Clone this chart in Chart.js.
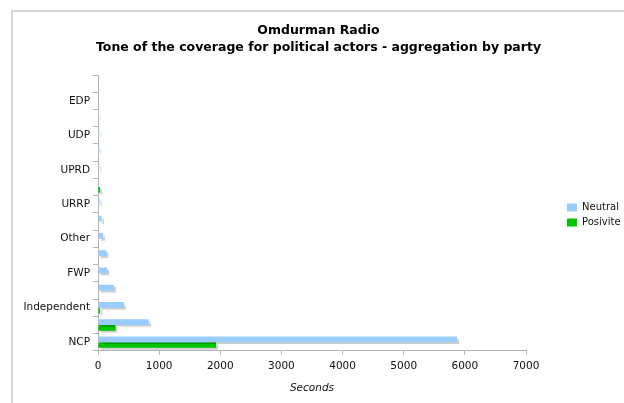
<!DOCTYPE html>
<html>
<head>
<meta charset="utf-8">
<style>
  html, body { margin: 0; padding: 0; background: #fff; overflow: hidden; }
  .frame {
    position: absolute; left: 11px; top: 10px; width: 611px; height: 391px;
    border-left: 2px solid #d4d4d4; border-top: 2px solid #d4d4d4;
  }
  #toneChart { display: block; }
</style>
</head>
<body>
<div class="frame"><canvas id="toneChart" width="611" height="391"></canvas></div>
<script src="https://cdn.jsdelivr.net/npm/chart.js@4.4.0/dist/chart.umd.min.js"></script>
<script>
   // parties, top of the chart first; blank rows carry no label on the axis
   const parties = ['', 'EDP', '', 'UDP', '', 'UPRD', '', 'URRP', '', 'Other', '', 'FWP', '', 'Independent', '', 'NCP'];
   // seconds of airtime per tone
   const neutralSeconds  = [0, 0, 15, 20, 20, 20, 0, 25, 60, 80, 135, 150, 260, 425, 830, 5870];
   const positiveSeconds = [10, 10, 0, 0, 0, 0, 35, 8, 0, 0, 0, 0, 0, 33, 285, 1930];
   const secondsTicks = [0, 1000, 2000, 3000, 4000, 5000, 6000, 7000];

   const font = 'DejaVu Sans';
   const axisGray = '#b4b4b4';

   // soft drop shadow under the bars
   const barShadow = {
       id: 'barShadow',
       beforeDatasetsDraw(chart) {
           const ctx = chart.ctx;
           ctx.save();
           ctx.shadowColor = 'rgba(0,0,0,0.2)';
           ctx.shadowOffsetX = 2;
           ctx.shadowOffsetY = 2;
           ctx.shadowBlur = 1;
       },
       afterDatasetsDraw(chart) {
           chart.ctx.restore();
       }
   };

   // leave a gap between the plot and the legend entries
   const legendGap = {
       id: 'legendGap',
       beforeLayout(chart) {
           const legend = chart.legend;
           if (!legend || legend.gapPatched) return;
           legend.gapPatched = true;
           const draw = legend.draw;
           legend.draw = function () {
               this.ctx.save();
               this.ctx.translate(36, 2);
               draw.apply(this, arguments);
               this.ctx.restore();
           };
       }
   };

   const toneChart = new Chart(document.getElementById('toneChart'), {
       type: 'bar',
       data: {
           labels: parties,
           datasets: [{
               label: 'Neutral',
               data: neutralSeconds,
               backgroundColor: '#99ccff',
               borderWidth: 0
           }, {
               label: 'Posivite',
               data: positiveSeconds,
               backgroundColor: '#00c400',
               borderWidth: 0
           }]
       },
       options: {
           indexAxis: 'y',
           responsive: false,
           devicePixelRatio: 1,
           animation: false,
           categoryPercentage: 0.66,
           barPercentage: 1.0,
           layout: { padding: { top: 0, right: 0, bottom: 4, left: 0 } },
           scales: {
               x: {
                   min: 0,
                   max: 7000,
                   afterBuildTicks(scale) {
                       scale.ticks = secondsTicks.map(v => ({ value: v }));
                   },
                   afterFit(scale) {
                       scale.paddingRight = 98;
                   },
                   border: { color: axisGray, width: 1 },
                   grid: { drawOnChartArea: false, tickLength: 4, color: axisGray },
                   ticks: {
                       padding: 5,
                       color: '#111',
                       font: { family: font, size: 10.5 },
                       callback: value => String(value)
                   },
                   title: {
                       display: true,
                       text: 'Seconds',
                       color: '#111',
                       padding: { top: 5, bottom: 4 },
                       font: { family: font, size: 10.5, style: 'italic' }
                   }
               },
               y: {
                   afterFit(scale) {
                       scale.width = 85;
                   },
                   border: { color: axisGray, width: 1 },
                   grid: { drawOnChartArea: false, tickLength: 5, color: axisGray, offset: true },
                   ticks: { padding: 3, color: '#111', autoSkip: false, font: { family: font, size: 10.5 } }
               }
           },
           plugins: {
               title: {
                   display: true,
                   text: ['Omdurman Radio', 'Tone of the coverage for political actors - aggregation by party'],
                   color: '#000',
                   padding: { top: 10, bottom: 19 },
                   font: { family: font, size: 12.5, weight: 'bold', lineHeight: 1.36 }
               },
               legend: {
                   display: true,
                   position: 'right',
                   fullSize: false,
                   labels: {
                       boxWidth: 10,
                       boxHeight: 8,
                       padding: 5,
                       color: '#111',
                       font: { family: font, size: 10 }
                   }
               },
               tooltip: { enabled: false }
           }
       },
       plugins: [barShadow, legendGap]
   });
</script>
</body>
</html>
